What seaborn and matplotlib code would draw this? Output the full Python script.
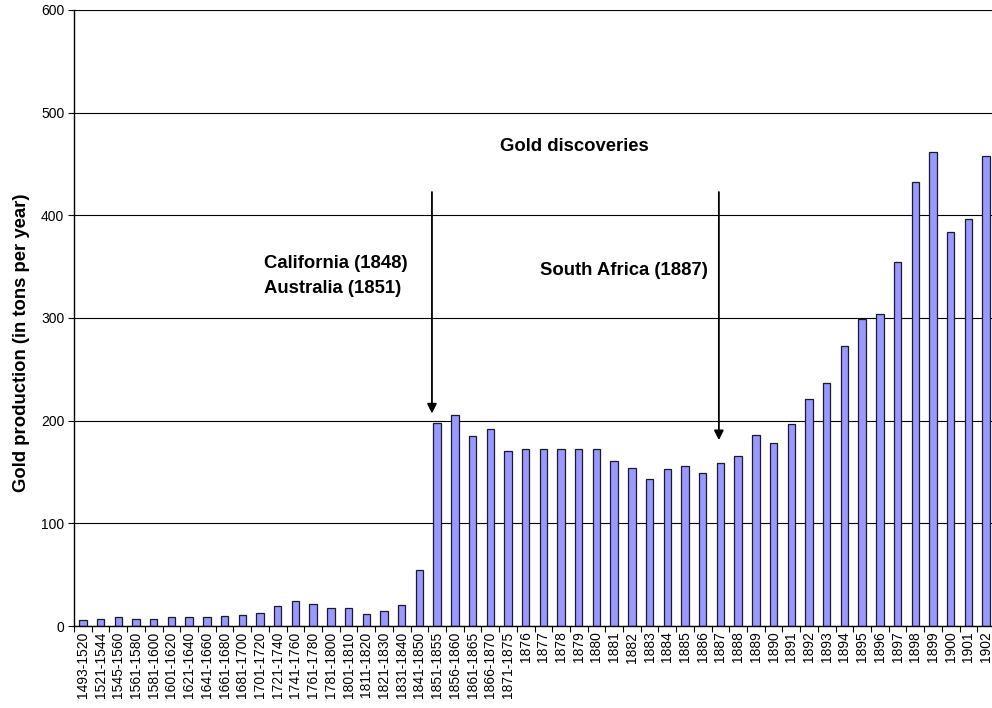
import numpy as np
import pandas as pd
import seaborn as sns
import matplotlib
matplotlib.use("Agg")
import matplotlib.pyplot as plt

# periods (early ones are multi-year averages, then single years)
periods = [
    "1493-1520", "1521-1544", "1545-1560", "1561-1580", "1581-1600",
    "1601-1620", "1621-1640", "1641-1660", "1661-1680", "1681-1700",
    "1701-1720", "1721-1740", "1741-1760", "1761-1780", "1781-1800",
    "1801-1810", "1811-1820", "1821-1830", "1831-1840", "1841-1850",
    "1851-1855", "1856-1860", "1861-1865", "1866-1870", "1871-1875",
] + [str(y) for y in range(1876, 1903)]

# gold production, tons per year
production = [
    6, 7, 8.5, 7, 7.3, 8.7, 8.5, 9, 9.5, 11,
    13, 19, 24.5, 21, 18, 18, 11.5, 14.5, 20.3, 55,
    197.5, 206, 185, 191.5, 170.5,
    172, 172, 172, 172, 172, 160.7, 153.5, 143.5, 152.5, 156,
    149, 159, 166, 186, 178.5, 197, 221, 237, 273, 299,
    304, 355, 432, 462, 383.5, 396.5, 458,
]

df = pd.DataFrame({"period": periods, "tons": production})

sns.set_style("white")
plt.rcParams["font.family"] = ["Liberation Sans", "DejaVu Sans"]
plt.rcParams["text.color"] = "black"
plt.rcParams["axes.labelcolor"] = "black"
plt.rcParams["xtick.color"] = "black"
plt.rcParams["ytick.color"] = "black"

fig = plt.figure(figsize=(9.92, 7.08), dpi=100)
ax = fig.add_axes([74 / 992, 82 / 708, 921 / 992, 616 / 708])

sns.barplot(data=df, x="period", y="tons", color="#9999ff", saturation=1,
            edgecolor="#1a1a2e", linewidth=0.9, width=0.42, ax=ax)

ax.set_xlim(-0.5, len(periods) - 0.5)
ax.set_ylim(0, 600)
ax.set_yticks(np.arange(0, 601, 100))
ax.yaxis.grid(True, color="black", linewidth=0.8)
ax.set_axisbelow(True)

for s in ["top", "right"]:
    ax.spines[s].set_visible(False)
for s in ["left", "bottom"]:
    ax.spines[s].set_color("black")
    ax.spines[s].set_linewidth(1.0)

# Excel-like tick marks between the categories
ax.set_xticks(np.arange(-0.5, len(periods), 1), minor=True)
ax.tick_params(axis="x", which="major", length=0, pad=4, labelsize=10,
               labelrotation=90, labelcolor="black")
ax.tick_params(axis="x", which="minor", length=4, width=0.8, color="black",
               direction="out", bottom=True)
ax.tick_params(axis="y", length=4, width=0.8, color="black", left=True,
               pad=3, labelsize=10, labelcolor="black")

ax.set_xlabel("")
ax.set_ylabel("Gold production (in tons per year)", fontsize=13.3,
              fontweight="bold", color="black")
ax.yaxis.set_label_coords(-0.048, 0.46)

# annotations
txt = dict(fontsize=13.3, fontweight="bold", color="black", va="baseline")
ax.text(27.74, 462.6, "Gold discoveries", ha="center", **txt)
ax.text(10.2, 348.4, "California (1848)", ha="left", **txt)
ax.text(10.2, 324.0, "Australia (1851)", ha="left", **txt)
ax.text(30.57, 341.9, "South Africa (1887)", ha="center", **txt)

arrow = dict(arrowstyle="-|>", color="black", lw=1.3, mutation_scale=14,
             shrinkA=0, shrinkB=0)
ax.annotate("", xy=(19.71, 207), xytext=(19.71, 422.7), arrowprops=arrow)
ax.annotate("", xy=(35.91, 181), xytext=(35.91, 422.7), arrowprops=arrow)

fig.savefig("out.png", dpi=100)
